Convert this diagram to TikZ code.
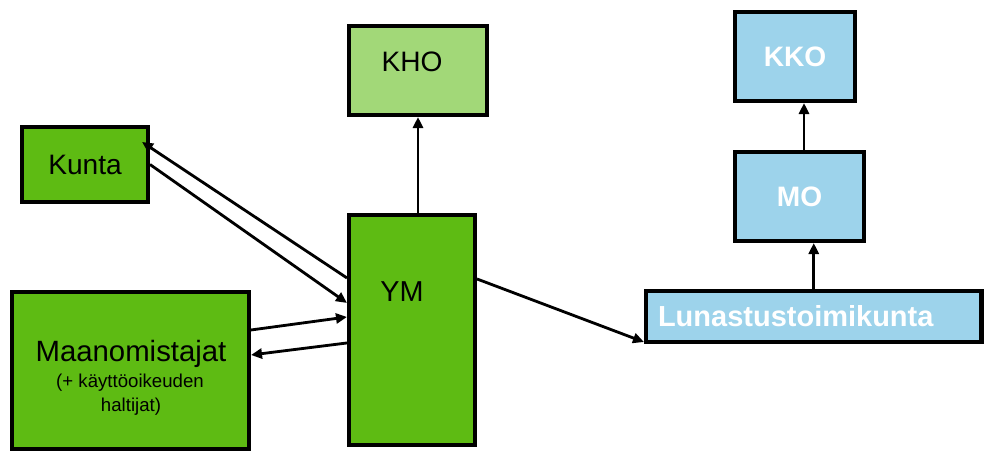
\documentclass[tikz,border=0pt]{standalone}
\usepackage{fontspec}
\setmainfont{Liberation Sans}
\usepackage{tikz}
\usetikzlibrary{arrows.meta,positioning,calc}
\definecolor{ymgreen}{RGB}{94,187,19}
\definecolor{khogreen}{RGB}{162,216,120}
\definecolor{courtblue}{RGB}{157,211,235}
\tikzset{
    greenbox/.style={
        draw=black,
        line width=2.3pt,
        fill=ymgreen,
        inner sep=0pt,
        font=\fontsize{16}{19}\selectfont
    },
    % light green and blue boxes
    lightbox/.style={
        greenbox,
        fill=khogreen
    },
    bluebox/.style={
        greenbox,
        fill=courtblue,
        text=white,
        font=\fontsize{16}{19}\selectfont\bfseries
    },
    blackarrow/.style={
        line width=1.6pt,
        black,
        ->,
        >={Triangle[length=0.22cm, width=0.2cm]}
    }
}

\begin{document}
\begin{tikzpicture}
	\useasboundingbox (0,0) rectangle (19.68,9.12);

	\node[greenbox, minimum width=2.52cm, minimum height=1.50cm] (kunta) at (1.70,5.83) {Kunta};
	\node[lightbox, minimum width=2.76cm, minimum height=1.78cm] (kho) at (8.36,7.71) {};
	\node[greenbox, minimum width=2.52cm, minimum height=4.60cm] (ym) at (8.24,2.52) {};
	\node[greenbox, minimum width=4.74cm, minimum height=3.14cm] (maa) at (2.61,1.71) {};

	\node[bluebox, minimum width=2.40cm, minimum height=1.78cm] (kko) at (15.90,7.99) {KKO};
	\node[bluebox, minimum width=2.58cm, minimum height=1.78cm] (mo) at (15.99,5.19) {MO};
	\node[bluebox, minimum width=6.71cm, minimum height=1.02cm, inner xsep=0.24cm,
		text width=6.23cm, align=left, font=\fontsize{16.5}{19}\selectfont\bfseries]
		(lunastus) at (16.275,2.79) {Lunastustoimikunta};

	\node[font=\fontsize{16}{19}\selectfont, inner sep=0pt] (khotext) at ([shift={(-0.12,0.17)}]kho.center) {KHO};
	\node[font=\fontsize{16.4}{19}\selectfont, inner sep=0pt] (ymtext) at ([shift={(-0.20,0.76)}]ym.center) {YM};
	\node[font=\fontsize{16.7}{20}\selectfont, inner sep=0pt, anchor=base] (maatext) at (2.62,1.886) {Maanomistajat};
	\node[font=\fontsize{10.6}{13}\selectfont, inner sep=0pt, anchor=base] (maasub) at (2.60,1.36) {(+ käyttöoikeuden};
	\node[font=\fontsize{10.6}{13}\selectfont, inner sep=0pt, anchor=base] (maasubb) at (2.62,0.886) {haltijat)};

	\draw[blackarrow] ($(ym.north west)+(0,-1.30)$) to ($(kunta.north east)+(-0.16,-0.34)$);
	\draw[blackarrow] (kunta.east) to ($(ym.north west)+(0,-1.80)$);
	\draw[blackarrow] ($(maa.north east)+(0,-0.80)$) to ($(ym.north west)+(0,-2.08)$);
	\draw[blackarrow] ($(ym.north west)+(0,-2.60)$) to ($(maa.north east)+(0,-1.30)$);

	\draw[blackarrow] (kho.south |- ym.north) to (kho.south);
	\draw[blackarrow] ($(ym.north east)+(0,-1.32)$) to ($(lunastus.south west)+(0,0.04)$);
	\draw[blackarrow] (lunastus.north) to (lunastus.north |- mo.south);
	\draw[blackarrow] ([xshift=0.09cm]mo.north) to ([xshift=0.09cm]mo.north |- kko.south);
\end{tikzpicture}
\end{document}
